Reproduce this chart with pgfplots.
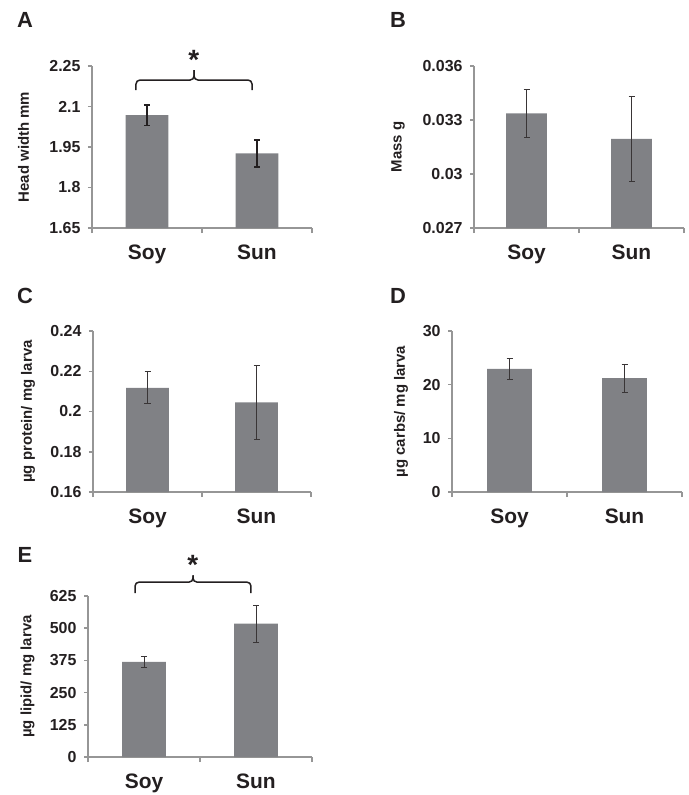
\documentclass[border=0pt]{standalone}
\usepackage{pgfplots}
\pgfplotsset{compat=1.18}
\usepackage{fontspec}
\setmainfont{Liberation Sans}

\definecolor{bargray}{RGB}{128,129,133}
\definecolor{axgray}{RGB}{150,150,150}
\definecolor{txt}{RGB}{35,31,32}

\pgfplotsset{
panel/.style={
  scale only axis, clip=false,
  axis x line*=bottom, axis y line*=left,
  axis line style={axgray, line width=1.5bp},
  xmin=0.5, xmax=2.5,
  xtick={1,2}, xticklabels={Soy,Sun},
  minor xtick={0.5,1.5,2.5},
  tick align=outside,
  major x tick style={draw=none},
  major tick length=4bp, minor tick length=5bp,
  tick style={axgray, line width=1.5bp},
  scaled y ticks=false,
  yticklabel style={font=\bfseries\fontsize{16}{16}\selectfont, text=txt, xshift=-4bp},
  xticklabel style={font=\bfseries\fontsize{21}{21}\selectfont, text=txt, yshift=-9bp},
  ylabel style={font=\bfseries\fontsize{15}{15}\selectfont, text=txt, anchor=center},
  ybar, bar width=0.39, bar shift=0,
},
thinerr/.style={fill=bargray, draw=none,
  error bars/.cd, y dir=both, y explicit,
  error bar style={line width=0.9bp, txt!90},
  error mark options={rotate=90, mark size=3bp, line width=0.9bp, txt!90}},
}
\tikzset{brk/.style={txt, line width=1.5bp, rounded corners=4bp}}
\newcommand{\lbl}[1]{\bfseries\fontsize{22}{22}\selectfont #1}

\begin{document}
\begin{tikzpicture}
\useasboundingbox (0,0) rectangle (689bp,-795bp);

% A
\begin{axis}[panel, at={(92bp,-228bp)}, anchor=south west, width=220bp, height=162bp,
  ymin=1.65, ymax=2.25, ytick={1.65,1.8,1.95,2.1,2.25},
  yticklabels={1.65,1.8,1.95,2.1,2.25},
  ylabel={Head width mm}, ylabel style={at={(axis description cs:-0.311,0.5)}}]
\addplot[fill=bargray, draw=none,
  error bars/.cd, y dir=both, y explicit,
  error bar style={line width=1.8bp, txt},
  error mark options={rotate=90, mark size=3bp, line width=1.8bp, txt}]
  coordinates {(1,2.068) +- (0,0.038) (2,1.926) +- (0,0.049)};
\draw[brk] (axis cs:0.9,2.161) -- (axis cs:0.9,2.198) -- (axis cs:1.4275,2.198) -- (axis cs:1.4275,2.235);
\draw[brk] (axis cs:1.4275,2.235) -- (axis cs:1.4275,2.198) -- (axis cs:1.955,2.198) -- (axis cs:1.955,2.161);
\node[txt, font=\bfseries\fontsize{28}{28}\selectfont] at (axis cs:1.425,2.272) {*};
\end{axis}

% B
\begin{axis}[panel, at={(474bp,-228bp)}, anchor=south west, width=210bp, height=162bp,
  ymin=0.027, ymax=0.036, ytick={0.027,0.03,0.033,0.036},
  yticklabels={0.027,0.03,0.033,0.036},
  ylabel={Mass g}, ylabel style={at={(axis description cs:-0.362,0.5)}}]
\addplot[thinerr] coordinates {(1,0.03337) +- (0,0.00134) (2,0.03195) +- (0,0.00234)};
\end{axis}

% C
\begin{axis}[panel, at={(93bp,-492bp)}, anchor=south west, width=218bp, height=161bp,
  ymin=0.16, ymax=0.24, ytick={0.16,0.18,0.2,0.22,0.24},
  yticklabels={0.16,0.18,0.2,0.22,0.24},
  ylabel={µg protein/ mg larva}, ylabel style={at={(axis description cs:-0.298,0.5)}}]
\addplot[thinerr] coordinates {(1,0.2118) +- (0,0.0079) (2,0.2046) +- (0,0.0184)};
\end{axis}

% D
\begin{axis}[panel, at={(452bp,-492bp)}, anchor=south west, width=230bp, height=161bp,
  ymin=0, ymax=30, ytick={0,10,20,30},
  yticklabels={0,10,20,30},
  ylabel={µg carbs/ mg larva}, ylabel style={at={(axis description cs:-0.222,0.5)}}]
\addplot[thinerr] coordinates {(1,22.93) +- (0,1.99) (2,21.2) +- (0,2.66)};
\end{axis}

% E
\begin{axis}[panel, at={(88bp,-757bp)}, anchor=south west, width=224bp, height=161bp,
  ymin=0, ymax=625, ytick={0,125,250,375,500,625},
  yticklabels={0,125,250,375,500,625},
  ylabel={µg lipid/ mg larva}, ylabel style={at={(axis description cs:-0.27,0.5)}}]
\addplot[thinerr] coordinates {(1,369.7) +- (0,22) (2,518) +- (0,72)};
\draw[brk] (axis cs:0.92,636.6) -- (axis cs:0.92,679) -- (axis cs:1.4375,679) -- (axis cs:1.4375,705);
\draw[brk] (axis cs:1.4375,705) -- (axis cs:1.4375,679) -- (axis cs:1.955,679) -- (axis cs:1.955,636.6);
\node[txt, font=\bfseries\fontsize{28}{28}\selectfont] at (axis cs:1.435,747.5) {*};
\end{axis}

\node[txt] at (25bp,-20bp) {\lbl{A}};
\node[txt] at (398bp,-20bp) {\lbl{B}};
\node[txt] at (25bp,-296bp) {\lbl{C}};
\node[txt] at (398bp,-296bp) {\lbl{D}};
\node[txt] at (25bp,-555bp) {\lbl{E}};
\end{tikzpicture}
\end{document}
